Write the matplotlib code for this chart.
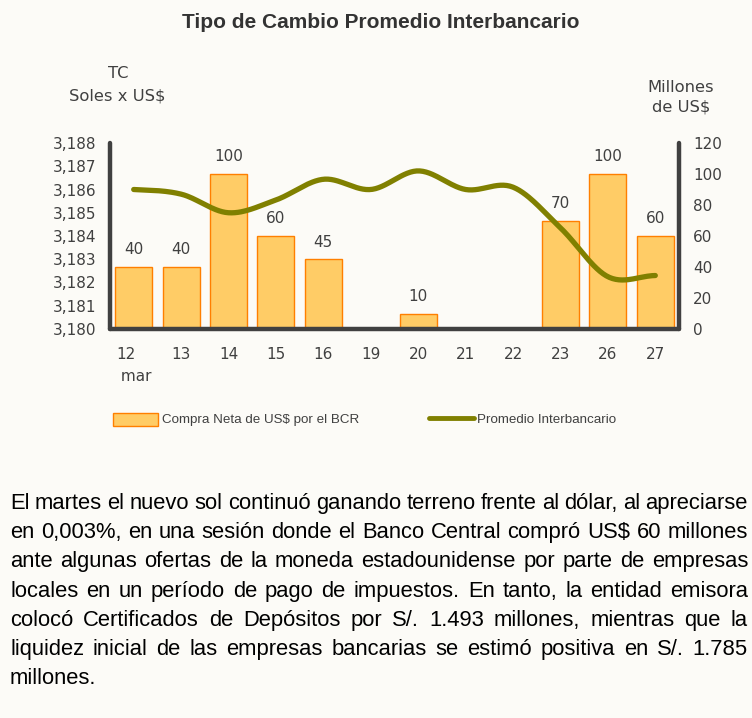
import numpy as np
import matplotlib
matplotlib.use("Agg")
import matplotlib.pyplot as plt
from matplotlib.patches import Rectangle
from matplotlib.lines import Line2D

# ---------------- data ----------------
days = ["12\n mar", "13", "14", "15", "16", "19", "20", "21", "22", "23", "26", "27"]
compra = [40, 40, 100, 60, 45, 0, 10, 0, 0, 70, 100, 60]
tc = [3186.0, 3185.8, 3185.0, 3185.55, 3186.44, 3186.0, 3186.8, 3186.0, 3186.1, 3184.35, 3182.25, 3182.3]
left_ticks = [3180, 3181, 3182, 3183, 3184, 3185, 3186, 3187, 3188]
right_ticks = [0, 20, 40, 60, 80, 100, 120]

title = "Tipo de Cambio Promedio Interbancario"
legend_bar = "Compra Neta de US$ por el BCR"
legend_line = "Promedio Interbancario"
paragraph = [
    "El martes el nuevo sol continuó ganando terreno frente al dólar, al apreciarse",
    "en 0,003%, en una sesión donde el Banco Central compró US$ 60 millones",
    "ante algunas ofertas de la moneda estadounidense por parte de empresas",
    "locales en un período de pago de impuestos. En tanto, la entidad emisora",
    "colocó Certificados de Depósitos por S/. 1.493 millones, mientras que la",
    "liquidez inicial de las empresas bancarias se estimó positiva en S/. 1.785",
    "millones.",
]

BG = "#FCFBF7"
TXT = "#404040"
BAR_FC = "#FFCC66"
BAR_EC = "#FF7F00"
LINE_C = "#808000"
SPINE_C = "#404040"

W, H = 752, 718
fig = plt.figure(figsize=(W / 100, H / 100), dpi=100, facecolor=BG)

def fx(px):
    return px / W

def fy(py):
    return 1 - py / H

ax = fig.add_axes([fx(110), fy(329), fx(679) - fx(110), fy(143) - fy(329)])
ax2 = ax.twinx()
ax.set_zorder(ax2.get_zorder() + 1)
ax.patch.set_visible(False)
ax2.patch.set_facecolor(BG)

x = np.arange(len(days))

# bars on right axis
ax2.bar(x, compra, width=0.78, color=BAR_FC, edgecolor=BAR_EC, linewidth=1.0)
for xi, v in zip(x, compra):
    if v > 0:
        ax2.annotate(str(v), (xi, v), xytext=(0, 7), textcoords="offset points",
                     ha="center", va="bottom", fontsize=11, color=TXT,
                     family="DejaVu Sans")
ax2.set_ylim(0, 120)
ax2.set_yticks(right_ticks)

# smooth line (Bezier / Catmull-Rom through the read points)
def catmull(xs, ys, n=30):
    xs = np.asarray(xs, float); ys = np.asarray(ys, float)
    px = np.concatenate([[2 * xs[0] - xs[1]], xs, [2 * xs[-1] - xs[-2]]])
    py = np.concatenate([[ys[0]], ys, [ys[-1]]])
    ox, oy = [], []
    for i in range(1, len(px) - 2):
        t = np.linspace(0, 1, n, endpoint=False)
        for arr, out in ((px, ox), (py, oy)):
            p0, p1, p2, p3 = arr[i - 1], arr[i], arr[i + 1], arr[i + 2]
            c1 = p1 + (p2 - p0) / 6
            c2 = p2 - (p3 - p1) / 6
            out.extend((1 - t) ** 3 * p1 + 3 * (1 - t) ** 2 * t * c1 + 3 * (1 - t) * t ** 2 * c2 + t ** 3 * p2)
    ox.append(xs[-1]); oy.append(ys[-1])
    return np.array(ox), np.array(oy)

sx, sy = catmull(x, tc)
ax.plot(sx, sy, color=LINE_C, lw=3.8, solid_capstyle="round")
ax.set_ylim(3180, 3188)
ax.set_yticks(left_ticks)
ax.set_yticklabels([f"{v:,}" for v in left_ticks])
ax.set_xlim(-0.5, len(days) - 0.5)
ax.set_xticks(x)
ax.set_xticklabels(days, multialignment="left", linespacing=1.6)

for a in (ax, ax2):
    for s in a.spines.values():
        s.set_visible(False)
    a.tick_params(length=0, labelsize=11, labelcolor=TXT)
    for lab in a.get_xticklabels() + a.get_yticklabels():
        lab.set_family("DejaVu Sans")
ax.spines["left"].set_visible(True)
ax.spines["bottom"].set_visible(True)
ax2.spines["right"].set_visible(True)
for s in (ax.spines["left"], ax.spines["bottom"], ax2.spines["right"]):
    s.set_color(SPINE_C)
    s.set_linewidth(3.2)
    s.set_capstyle("round")
ax.tick_params(axis="y", pad=10)
ax2.tick_params(axis="y", pad=10)
ax.tick_params(axis="x", pad=13)

# axis titles
atf = dict(ha="center", va="center", fontsize=11.8, color=TXT, family="DejaVu Sans")
fig.text(fx(118), fy(74), "TC", **atf)
fig.text(fx(117), fy(96), "Soles x US$", **atf)
fig.text(fx(681), fy(88), "Millones", **atf)
fig.text(fx(681), fy(107), "de US$", **atf)

# title
fig.text(fx(381), fy(23), title, ha="center", va="center", fontsize=15, fontweight="bold",
         color="#333333", family="Liberation Sans")

# legend
lfont = dict(ha="left", va="center", fontsize=9.6, color=TXT, family="Liberation Sans")
fig.patches.append(Rectangle((fx(113), fy(426)), fx(158) - fx(113), fy(413) - fy(426),
                             transform=fig.transFigure, facecolor=BAR_FC, edgecolor=BAR_EC, lw=1.0))
fig.text(fx(162), fy(420), legend_bar, **lfont)
fig.lines.append(Line2D([fx(429), fx(474)], [fy(418), fy(418)], transform=fig.transFigure,
                        color=LINE_C, lw=3.5, solid_capstyle="round"))
fig.text(fx(477), fy(420), legend_line, **lfont)

# paragraph (justified)
renderer = fig.canvas.get_renderer()
left_px, right_px = 10, 748
base0, step = 509, 29.2
pfont = dict(fontsize=15.8, color="#000000", family="Liberation Sans")
for i, line in enumerate(paragraph):
    yb = fy(base0 + step * i)
    words = line.split(" ")
    if i == len(paragraph) - 1 or len(words) == 1:
        fig.text(fx(left_px), yb, line, ha="left", va="baseline", **pfont)
        continue
    texts = [fig.text(0, yb, w, ha="left", va="baseline", **pfont) for w in words]
    widths = [t.get_window_extent(renderer).width for t in texts]
    gap = (right_px - left_px - sum(widths)) / (len(words) - 1)
    cur = left_px
    for t, wdt in zip(texts, widths):
        t.set_x(fx(cur))
        cur += wdt + gap

fig.savefig("out.png", dpi=100, facecolor=BG)
